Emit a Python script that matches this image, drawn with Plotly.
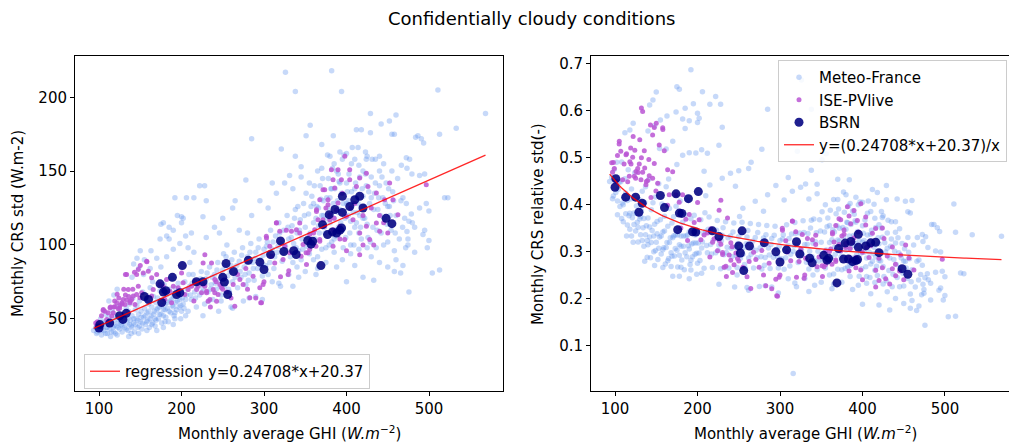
import numpy as np
import plotly.graph_objects as go

# ---------------- data ----------------
REG_A = 0.24708
REG_B = 20.37

# Meteo-France: monthly average GHI (W/m2) and monthly CRS std (W/m2)
mf_ghi_a = [93.5, 96, 98, 99, 101, 102, 103, 104, 106, 107, 108, 109, 110, 111, 112, 113, 114, 115, 116, 117,
            118, 119, 120, 121, 122, 123, 124, 125, 126, 127, 128, 129, 130, 112, 118, 122]
mf_std_a = [42, 44, 41, 47, 43, 50, 39, 45, 42, 48, 53, 44, 40, 46, 51, 43, 38, 47, 55, 44,
            41, 49, 52, 45, 39, 47, 58, 43, 50, 46, 41, 53, 48, 62, 66, 70]
mf_ghi_b = [131, 132, 133, 134, 135, 136, 137, 138, 139, 140, 141, 142, 143, 144, 145, 146, 147, 148, 149, 150,
            151, 152, 153, 154, 155, 156, 157, 158, 159, 160, 161, 162, 163, 164, 165, 166, 167, 168, 169, 170,
            140, 148, 155, 163, 150, 142, 170, 165, 139, 146, 154, 162, 170, 174, 182]
mf_std_b = [44, 51, 57, 47, 42, 55, 60, 49, 45, 52, 64, 47, 41, 56, 50, 59, 44, 53, 62, 48,
            55, 43, 68, 51, 57, 46, 63, 54, 49, 60, 44, 71, 52, 58, 47, 65, 55, 50, 61, 56,
            78, 84, 90, 96, 96, 87, 42, 75, 40, 91, 80, 84, 91, 104, 106]
mf_ghi_c = [171, 172, 173, 174, 175, 176, 177, 178, 179, 180, 181, 182, 183, 184, 185, 186, 187, 188, 189, 190,
            191, 192, 193, 194, 195, 196, 197, 198, 199, 200, 202, 204, 206, 208, 210, 212, 214, 216, 218, 220,
            175, 182, 190, 198, 205, 185, 195, 210, 215, 200, 178, 190, 205,
            192, 175, 200, 185, 206, 215, 178, 200, 212, 190, 208, 202]
mf_std_c = [64, 50, 58, 69, 53, 47, 62, 56, 73, 60, 51, 66, 57, 48, 70, 62, 54, 77, 59, 65,
            52, 71, 61, 56, 68, 74, 58, 63, 50, 69, 60, 75, 66, 55, 72, 63, 80, 68, 58, 75,
            85, 92, 97, 101, 106, 112, 120, 88, 95, 55, 44, 46, 52,
            132, 114, 119, 104, 132, 132, 115, 115, 108, 110, 98, 118]
mf_ghi_d = [222, 224, 226, 228, 230, 232, 234, 236, 238, 240, 242, 244, 246, 248, 250, 252, 254, 256, 258, 260,
            262, 264, 266, 268, 270, 272, 274, 276, 278, 280, 282, 284, 286, 288, 290, 292, 294, 296, 298, 300,
            230, 240, 250, 262, 270, 285, 295, 245, 260, 275, 290, 255, 280, 228, 278, 265,
            222, 230, 246, 285, 226, 226]
mf_std_d = [66, 82, 71, 60, 77, 68, 85, 73, 63, 80, 70, 88, 76, 66, 83, 72, 92, 79, 68, 86,
            75, 95, 82, 71, 89, 78, 98, 85, 73, 92, 81, 101, 88, 76, 95, 84, 104, 90, 79, 97,
            105, 112, 118, 125, 110, 120, 130, 55, 58, 62, 65, 100, 108, 140, 144, 130,
            140, 130, 108, 172, 52, 119]
mf_ghi_e = [302, 304, 306, 308, 310, 312, 314, 316, 318, 320, 322, 324, 326, 328, 330, 332, 334, 336, 338, 340,
            342, 344, 346, 348, 350, 352, 354, 356, 358, 360, 305, 315, 325, 335, 345, 355,
            310, 320, 330, 340, 350, 360, 316, 326, 338, 321, 338, 345, 331, 310, 356, 351, 370]
mf_std_e = [86, 102, 93, 110, 97, 84, 106, 95, 115, 101, 89, 110, 99, 120, 104, 92, 113, 101, 124, 108,
            96, 117, 104, 128, 112, 99, 121, 108, 133, 115, 125, 135, 142, 138, 146, 142,
            75, 72, 80, 85, 82, 90, 12.6, 217, 204, 165, 160, 153, 147, 142, 181, 174, 168]
mf_ghi_f = [362, 364, 366, 368, 370, 372, 374, 376, 378, 380, 382, 384, 386, 388, 390, 392, 394, 396, 398, 400,
            402, 404, 406, 408, 410, 412, 414, 416, 418, 420, 365, 375, 385, 395, 405, 415,
            370, 380, 390, 400, 410, 420, 372, 382, 392, 402, 412, 366, 376, 386, 396, 406, 416,
            363, 388, 410, 400, 420, 382, 394, 377, 392, 397, 384, 407, 414, 412, 418, 365, 385]
mf_std_f = [104, 126, 113, 140, 97, 120, 108, 132, 145, 115, 102, 128, 138, 150, 112, 124, 135, 98, 118, 142,
            130, 108, 155, 122, 138, 115, 128, 146, 104, 133, 92, 88, 95, 90, 94, 97,
            152, 160, 148, 162, 158, 150, 130, 138, 142, 120, 132, 125, 118, 110, 128, 136, 120,
            80, 85, 86, 75, 78, 218, 204, 161, 163, 161, 174, 166, 166, 178, 178, 150, 155]
mf_ghi_g = [422, 424, 426, 428, 430, 432, 434, 436, 438, 440, 442, 444, 446, 448, 450, 452, 454, 456, 458, 460,
            462, 464, 466, 468, 425, 435, 445, 455, 430, 440, 450, 460, 429, 442, 452, 460,
            429, 455, 458, 440, 423, 424, 433, 458]
mf_std_g = [118, 140, 105, 128, 146, 112, 135, 98, 124, 150, 108, 132, 118, 142, 102, 126, 110, 136, 96, 120,
            145, 104, 130, 112, 160, 158, 155, 150, 92, 88, 85, 90, 189, 182, 184, 188,
            176, 175, 175, 160, 163, 158, 76, 82]
mf_ghi_h = [510.8, 568.5, 533, 512.8, 483.8, 486.6, 490.7, 493.5, 472.5, 476.5, 466.5, 473.3, 479.3, 488.6,
            494.7, 518.9, 522.9, 468.4, 472.5, 470.5, 496.7, 488.6, 499.9, 478.6, 475.7, 479.8, 482.6, 494.7,
            492.7, 473.3, 499.9, 474.5, 471.7, 474.5, 497.9, 482.6, 468.4, 512.8, 465.6, 475.7, 504]
mf_std_h = [205, 189, 179, 175, 173, 174, 172, 169, 159, 158, 154, 152, 148, 147,
            148, 132, 132, 132, 128, 118, 128, 125, 123, 121, 116, 115, 112, 110,
            107, 109, 103, 104, 98, 100, 98, 95, 86, 83, 81, 68, 81]
mf_ghi_i = [97, 100, 103, 105, 108, 110, 113, 115, 118, 120, 123, 126, 128, 131, 133, 135, 137, 140, 142, 144,
            147, 149, 151, 153, 156, 158, 160, 162, 164, 166, 169, 171, 173, 176, 178, 180, 183, 185, 188, 190,
            192, 195, 197, 199, 201, 203, 136, 148, 158, 168, 180, 192]
mf_std_i = [40, 45, 42, 47, 40, 44, 48, 41, 45, 40, 44, 48, 45, 49, 43, 50, 46, 44, 50, 46,
            49, 45, 51, 47, 52, 48, 55, 50, 46, 53, 49, 57, 53, 59, 52, 56, 61, 55, 63, 58,
            54, 62, 66, 59, 64, 57, 38, 40, 42, 45, 48, 50]
mf_ghi_j = [205, 207, 211, 213, 217, 219, 223, 225, 229, 231, 235, 237, 241, 243, 247, 249, 253, 255, 259, 261,
            265, 267, 271, 273, 277, 279, 283, 287, 289, 293, 297, 299, 303, 307, 311, 313, 317, 319, 323, 209,
            233, 257, 281, 305, 251, 262, 282, 298, 318, 248, 335, 342]
mf_std_j = [63, 70, 66, 74, 64, 71, 77, 68, 74, 81, 70, 78, 74, 83, 72, 79, 86, 75, 82, 90,
            78, 86, 82, 93, 80, 88, 95, 84, 91, 98, 86, 93, 99, 88, 102, 92, 99, 108, 95, 80,
            62, 70, 76, 80, 94, 57, 64, 63, 74, 62, 72, 78]
mf_ghi_k = [327, 329, 333, 337, 339, 341, 343, 347, 349, 351, 353, 357, 359, 361, 363, 367, 369, 371, 373, 377,
            379, 381, 383, 385, 387, 389, 391, 393, 395, 397, 399, 401, 403, 405, 407, 409, 411, 413, 415, 417,
            419, 421, 423, 425, 427, 429, 431, 433, 435, 437, 439, 441, 443, 445, 447, 449, 451, 453, 457, 459,
            335, 345, 355, 365, 375, 385, 395, 405, 415, 425, 360, 370, 380, 390, 400, 410, 420, 430, 440, 450]
mf_std_k = [96, 112, 105, 118, 98, 126, 110, 97, 120, 135, 105, 126, 100, 140, 118, 108, 131, 145, 112, 125,
            100, 138, 152, 118, 106, 130, 143, 115, 158, 122, 105, 136, 148, 116, 128, 100, 142, 122, 154, 112,
            138, 126, 148, 114, 136, 102, 158, 124, 142, 110, 132, 120, 146, 100, 128, 114, 138, 120, 130, 108,
            88, 90, 94, 84, 98, 104, 110, 100, 108, 98, 128, 120, 132, 122, 128, 112, 118, 132, 140, 126]

# ISE-PVlive
ise_ghi_a = [99.2, 101.2, 105.2, 109.3, 113.3, 115.4, 117.3, 119.4, 121.4, 123.4, 125.4, 127.5, 129.4, 131.5,
             133.5, 133.5, 135.5, 137.5, 139.6, 141.5, 143.6, 145.6, 145.6, 147.6, 147.6, 149.6, 151.7, 153.6,
             157.8, 159.7, 163.8, 163.8, 165.7, 169.9, 173.8, 177.8, 179.8, 181.9, 185.9, 188, 190, 196, 200.1,
             202, 204.1, 208.1, 212.2, 216.2, 218.3, 220.2, 224.3, 226.2, 228.3, 230.3, 232.2, 236.4, 238.4,
             240.3, 244.3, 248.5]
ise_std_a = [47.3, 45.5, 56.3, 49.5, 57.4, 51.8, 54, 58.1, 60.8, 56.8, 59, 60.8, 63, 59.6,
             62.6, 79.9, 69.8, 60.8, 63, 65.3, 59.6, 66.4, 79.9, 72, 83.3, 64.2, 67.6, 81,
             89, 82.2, 77.7, 65.3, 69.8, 79.9, 73.2, 72, 63, 76.6, 68.6, 60.8, 72, 70.9, 81,
             74.3, 66.4, 69.8, 72, 75.4, 69.8, 72, 67.6, 87.8, 72, 68.6, 61.9, 87.8, 69.8,
             67.6, 66.4, 70.9]
ise_ghi_b = [96, 97, 98, 103, 107, 111, 114, 119, 124, 128, 132, 136, 141, 118, 125, 138, 105, 122, 130, 132,
             143, 150, 158]
ise_std_b = [47, 45.5, 48, 52, 55, 54, 58, 62, 64, 60, 66, 65, 70, 58, 57, 62, 55.6, 66.5, 70, 80,
             81.5, 86, 88.5]
ise_ghi_c = [226.3, 230.4, 234.4, 242.5, 228.3, 240.4, 246.5, 262.6, 264.6, 270.7, 274.7, 282.8, 286.8, 294.9,
             297, 298.9, 303, 307, 309, 313, 315.1, 319.1, 323.1, 325.2, 329.2, 333.3, 339.3, 343.3, 343.3,
             347.3, 351.5, 353.4, 355.4, 361.5, 363.6, 365.5, 367.6, 371.5, 373.6, 377.6, 379.7, 383.7, 385.7,
             387.8, 389.7]
ise_std_c = [73.2, 67.6, 63, 61.9, 93.4, 76.6, 73.2, 73.2, 58.5, 76.6, 73.2, 64.2, 78.8, 71,
             60.8, 73.2, 104.7, 99.1, 92.3, 87.8, 114.9, 109.2, 90.1, 99.1, 80, 109.2, 110.3, 114.9, 108.1,
             100.2, 86.7, 94.6, 107, 110.3, 122.7, 117.1, 102.4, 137.4, 112.6, 127.2, 120.5, 110.3, 138.5,
             123.9, 128.4]
ise_ghi_d = [381.7, 389.7, 403.9, 393.8, 383.7, 424.1, 416, 373.6, 367.6, 377.6, 403.9, 412, 426, 436.2, 452.3,
             446.2, 462.3, 363.6, 371.5, 379.7, 399.9, 407.9, 391.8, 424.1, 436.2, 367.6, 416, 428.1, 456.3,
             440.2, 416, 496.7, 397.8, 355.4, 383.7]
ise_std_d = [150.9, 150.9, 150.9, 144.1, 144.1, 148.6, 145.3, 137.4, 130.6, 130.6, 144.1, 139.6, 139.6, 135.1,
             141.9, 130.6, 120.5, 123.9, 117.1, 117.1, 119.3, 117.1, 112.6, 112.6, 114.9, 103.6, 108.1, 103.6,
             130.6, 109.2, 93.4, 140.7, 103.6, 96.8, 99.1]
ise_ghi_e = [302.8, 315, 327, 331, 345, 351, 363, 296, 280, 320, 330, 290, 255, 260, 250, 215, 235, 242, 268,
             278, 300, 400, 410, 420, 430, 395, 405, 385, 375, 360, 440, 445, 433, 450, 398, 392, 420]
ise_std_e = [105.9, 115, 110, 94.6, 92.3, 94.6, 99, 60.8, 70, 78.4, 82.5, 64, 68, 64, 70, 62, 58, 75, 80,
             84, 75, 96, 128, 120, 125, 135, 125, 118, 125, 108, 120, 115, 100, 108, 160, 104, 100]

# BSRN
bsrn_ghi = [100, 101, 113, 125, 129, 133, 155, 160, 174, 176, 178, 181, 189, 194, 198, 201, 218, 226, 250, 252,
            254, 256, 263, 281, 295, 300, 308, 320, 324, 336, 339, 353, 357, 359, 369, 371, 377, 379, 383, 386,
            388, 392, 394, 395, 395, 404, 410, 416, 420, 448, 455]
bsrn_std = [43.7, 46, 47, 52, 49.5, 53.6, 65, 63, 73.6, 61, 68, 69, 78, 66.4, 67.6, 86, 75, 75, 78, 74.8,
            87.4, 66.4, 82, 89.6, 88.3, 83.3, 93.5, 102.7, 95.5, 96, 93.5, 103, 100.5, 102.5, 86, 113.7, 107,
            120.5, 108.8, 124, 108, 110, 111.5, 133, 122, 126, 130.6, 133, 125, 118, 114.4]

mf_groups = [(mf_ghi_a, mf_std_a), (mf_ghi_b, mf_std_b), (mf_ghi_c, mf_std_c), (mf_ghi_d, mf_std_d),
             (mf_ghi_e, mf_std_e), (mf_ghi_f, mf_std_f), (mf_ghi_g, mf_std_g), (mf_ghi_h, mf_std_h),
             (mf_ghi_i, mf_std_i), (mf_ghi_j, mf_std_j), (mf_ghi_k, mf_std_k)]
ise_groups = [(ise_ghi_a, ise_std_a), (ise_ghi_b, ise_std_b), (ise_ghi_c, ise_std_c), (ise_ghi_d, ise_std_d),
              (ise_ghi_e, ise_std_e)]
for gx, gy in mf_groups + ise_groups + [(bsrn_ghi, bsrn_std)]:
    assert len(gx) == len(gy), (len(gx), len(gy))

mf_ghi = np.array(sum([g[0] for g in mf_groups], []), dtype=float)
mf_std = np.array(sum([g[1] for g in mf_groups], []), dtype=float)
ise_ghi = np.array(sum([g[0] for g in ise_groups], []), dtype=float)
ise_std = np.array(sum([g[1] for g in ise_groups], []), dtype=float)
bsrn_ghi = np.array(bsrn_ghi, dtype=float)
bsrn_std = np.array(bsrn_std, dtype=float)

all_ghi = np.concatenate([mf_ghi, ise_ghi, bsrn_ghi])
reg_x = np.linspace(all_ghi.min(), all_ghi.max(), 200)
reg_y = REG_A * reg_x + REG_B

# ---------------- styling ----------------
W, H = 1009, 447
FONT = "DejaVu Sans"
FS = 15
C_MF = "rgba(100,149,237,0.36)"
C_ISE = "rgba(186,85,211,0.85)"
C_BSRN = "rgba(0,0,128,0.88)"
C_REG = "rgba(255,0,0,0.85)"


def px_x(p):
    return p / W


def px_y(p):
    return 1 - p / H


fig = go.Figure()

# left panel
fig.add_trace(go.Scatter(x=mf_ghi, y=mf_std, mode="markers", showlegend=False,
                         marker=dict(size=5.5, color=C_MF, line=dict(width=0)), xaxis="x", yaxis="y"))
fig.add_trace(go.Scatter(x=ise_ghi, y=ise_std, mode="markers", showlegend=False,
                         marker=dict(size=5, color=C_ISE, line=dict(width=0)), xaxis="x", yaxis="y"))
fig.add_trace(go.Scatter(x=bsrn_ghi, y=bsrn_std, mode="markers", showlegend=False,
                         marker=dict(size=9, color=C_BSRN, line=dict(width=0)), xaxis="x", yaxis="y"))
fig.add_trace(go.Scatter(x=reg_x, y=reg_y, mode="lines", name="regression y=0.24708*x+20.37",
                         line=dict(color=C_REG, width=1.3), xaxis="x", yaxis="y", legend="legend"))

# right panel
fig.add_trace(go.Scatter(x=mf_ghi, y=mf_std / mf_ghi, mode="markers", name="Meteo-France",
                         legendgroup="g1", legend="legend2",
                         marker=dict(size=5.5, color=C_MF, line=dict(width=0)), xaxis="x2", yaxis="y2"))
fig.add_trace(go.Scatter(x=ise_ghi, y=ise_std / ise_ghi, mode="markers", name="ISE-PVlive",
                         legendgroup="g2", legend="legend2",
                         marker=dict(size=5, color=C_ISE, line=dict(width=0)), xaxis="x2", yaxis="y2"))
fig.add_trace(go.Scatter(x=bsrn_ghi, y=bsrn_std / bsrn_ghi, mode="markers", name="BSRN",
                         legendgroup="g3", legend="legend2",
                         marker=dict(size=9, color=C_BSRN, line=dict(width=0)), xaxis="x2", yaxis="y2"))
fig.add_trace(go.Scatter(x=reg_x, y=reg_y / reg_x, mode="lines", name="y=(0.24708*x+20.37)/x",
                         legendgroup="g4", legend="legend2",
                         line=dict(color=C_REG, width=1.3), xaxis="x2", yaxis="y2"))

axis_common = dict(showline=True, linecolor="black", linewidth=1, ticks="outside", ticklen=4,
                   tickwidth=1, tickcolor="black", showgrid=False, zeroline=False,
                   tickfont=dict(family=FONT, size=FS, color="black"))

fig.update_layout(
    width=W, height=H,
    margin=dict(l=0, r=0, t=0, b=0),
    paper_bgcolor="white", plot_bgcolor="white",
    font=dict(family=FONT, size=FS, color="black"),
    xaxis=dict(domain=[px_x(75), px_x(503)], range=[70.9, 589.7], tickvals=[100, 200, 300, 400, 500],
               mirror=True, anchor="y", **axis_common),
    yaxis=dict(domain=[px_y(391), px_y(56)], range=[1.0, 228], tickvals=[50, 100, 150, 200],
               mirror=True, anchor="x", **axis_common),
    xaxis2=dict(domain=[px_x(591), 1.0], range=[70.9, 577.6], tickvals=[100, 200, 300, 400, 500],
                mirror=True, anchor="y2", **axis_common),
    yaxis2=dict(domain=[px_y(391), px_y(56)], range=[0.0025, 0.717],
                tickvals=[0.1, 0.2, 0.3, 0.4, 0.5, 0.6, 0.7],
                ticktext=["0.1", "0.2", "0.3", "0.4", "0.5", "0.6", "0.7"],
                mirror=False, anchor="x2", **axis_common),
    legend=dict(x=px_x(84), y=px_y(354), xanchor="left", yanchor="top",
                bgcolor="rgba(255,255,255,0.85)", bordercolor="#cccccc", borderwidth=1,
                font=dict(family=FONT, size=FS, color="black")),
    legend2=dict(x=px_x(778), y=px_y(60), xanchor="left", yanchor="top",
                 bgcolor="rgba(255,255,255,0.85)", bordercolor="#cccccc", borderwidth=1,
                 tracegroupgap=0, traceorder="grouped",
                 font=dict(family=FONT, size=FS, color="black")),
    annotations=[
        dict(text="Confidentially cloudy conditions", x=px_x(531), y=px_y(19), xref="paper", yref="paper",
             showarrow=False, xanchor="center", yanchor="middle", font=dict(family=FONT, size=18, color="black")),
        dict(text="Monthly average GHI (<i>W.m</i><sup>\u22122</sup>)", x=px_x(289.5), y=px_y(433),
             xref="paper", yref="paper", showarrow=False, xanchor="center", yanchor="middle",
             font=dict(family=FONT, size=FS, color="black")),
        dict(text="Monthly average GHI (<i>W.m</i><sup>\u22122</sup>)", x=px_x(805), y=px_y(433),
             xref="paper", yref="paper", showarrow=False, xanchor="center", yanchor="middle",
             font=dict(family=FONT, size=FS, color="black")),
        dict(text="Monthly CRS std (W.m-2)", x=px_x(18), y=px_y(224), textangle=-90,
             xref="paper", yref="paper", showarrow=False, xanchor="center", yanchor="middle",
             font=dict(family=FONT, size=FS, color="black")),
        dict(text="Monthly CRS relative std(-)", x=px_x(538), y=px_y(224), textangle=-90,
             xref="paper", yref="paper", showarrow=False, xanchor="center", yanchor="middle",
             font=dict(family=FONT, size=FS, color="black")),
    ],
)

fig.write_html("out.html")
